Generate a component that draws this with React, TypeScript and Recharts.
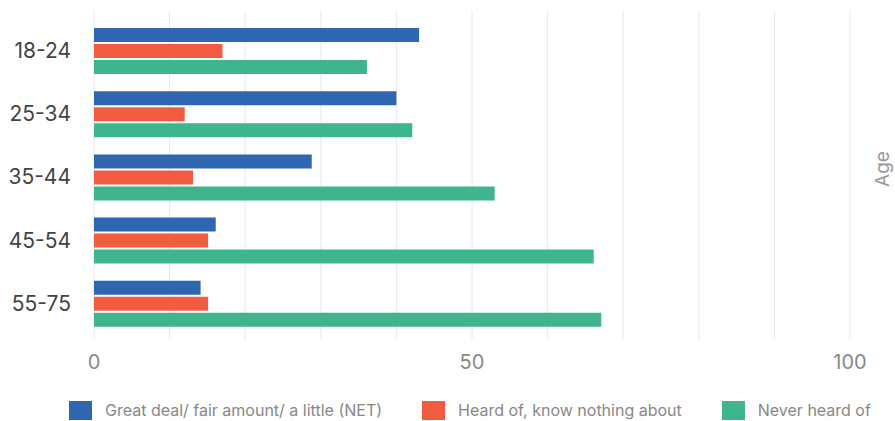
import React from "react";
import {
  BarChart,
  Bar,
  XAxis,
  YAxis,
  CartesianGrid,
  Legend,
} from "recharts";

const ageGroups = ["18-24", "25-34", "35-44", "45-54", "55-75"];
const greatDealNet = [43, 40, 28.8, 16.1, 14.1];
const heardOfNothing = [17, 12, 13.1, 15.1, 15.1];
const neverHeard = [36.1, 42.1, 53, 66.1, 67.1];
const xTicks = [0, 10, 20, 30, 40, 50, 60, 70, 80, 90, 100];
const xTickLabels = ["0", "50", "100"];

const series = [
  { key: "great", name: "Great deal/ fair amount/ a little (NET)", color: "#2e66b1" },
  { key: "heard", name: "Heard of, know nothing about", color: "#f15b40" },
  { key: "never", name: "Never heard of", color: "#3fb58f" },
];

const data = ageGroups.map((age, i) => ({
  age,
  great: greatDealNet[i],
  heard: heardOfNothing[i],
  never: neverHeard[i],
}));

const font = "Inter, 'Noto Sans', sans-serif";

function LegendRow() {
  return (
    <div style={{ display: "flex", alignItems: "center", height: 38, paddingTop: 20, boxSizing: "border-box", gap: 40 }}>
      {series.map((s) => (
        <div key={s.key} style={{ display: "flex", alignItems: "center" }}>
          <span style={{ width: 23, height: 19, background: s.color, display: "inline-block", marginRight: 13 }} />
          <span style={{ fontSize: 16, color: "#888", fontFamily: font, whiteSpace: "nowrap" }}>{s.name}</span>
        </div>
      ))}
    </div>
  );
}

export default function App() {
  return (
    <div style={{ position: "absolute", left: 0, top: 0, fontFamily: font }}>
      <BarChart
        width={895}
        height={421}
        data={data}
        layout="vertical"
        margin={{ top: 11, right: 0, bottom: 2, left: 0 }}
        barSize={14}
        barGap={2}
      >
        <CartesianGrid horizontal={false} stroke="#e8e8e8" yAxisId="left" />
        <XAxis
          type="number"
          domain={[0, 100]}
          ticks={xTicks}
          tickFormatter={(v: number) => (xTickLabels.includes(String(v)) ? String(v) : "")}
          tickLine={false}
          axisLine={false}
          tickMargin={10}
          height={42}
          tick={{ fill: "#888", fontSize: 20, fontFamily: font }}
        />
        <YAxis
          yAxisId="left"
          type="category"
          dataKey="age"
          width={94}
          tickLine={false}
          axisLine={false}
          tickMargin={17}
          padding={{ top: 8, bottom: 4 }}
          tick={{ fill: "#444", fontSize: 21, fontFamily: font }}
        />
        <YAxis
          yAxisId="right"
          orientation="right"
          type="category"
          dataKey="age"
          width={45}
          tick={false}
          tickLine={false}
          axisLine={false}
          label={{ value: "Age", angle: -90, position: "center", dx: 10, dy: -6, fill: "#999", fontSize: 19, fontFamily: font }}
        />
        <Legend
          verticalAlign="bottom"
          align="left"
          height={38}
          content={() => <LegendRow />}
          wrapperStyle={{ left: 69 }}
        />
        {series.map((s) => (
          <Bar
            key={s.key}
            yAxisId="left"
            dataKey={s.key}
            name={s.name}
            fill={s.color}
            isAnimationActive={false}
          />
        ))}
      </BarChart>
    </div>
  );
}
